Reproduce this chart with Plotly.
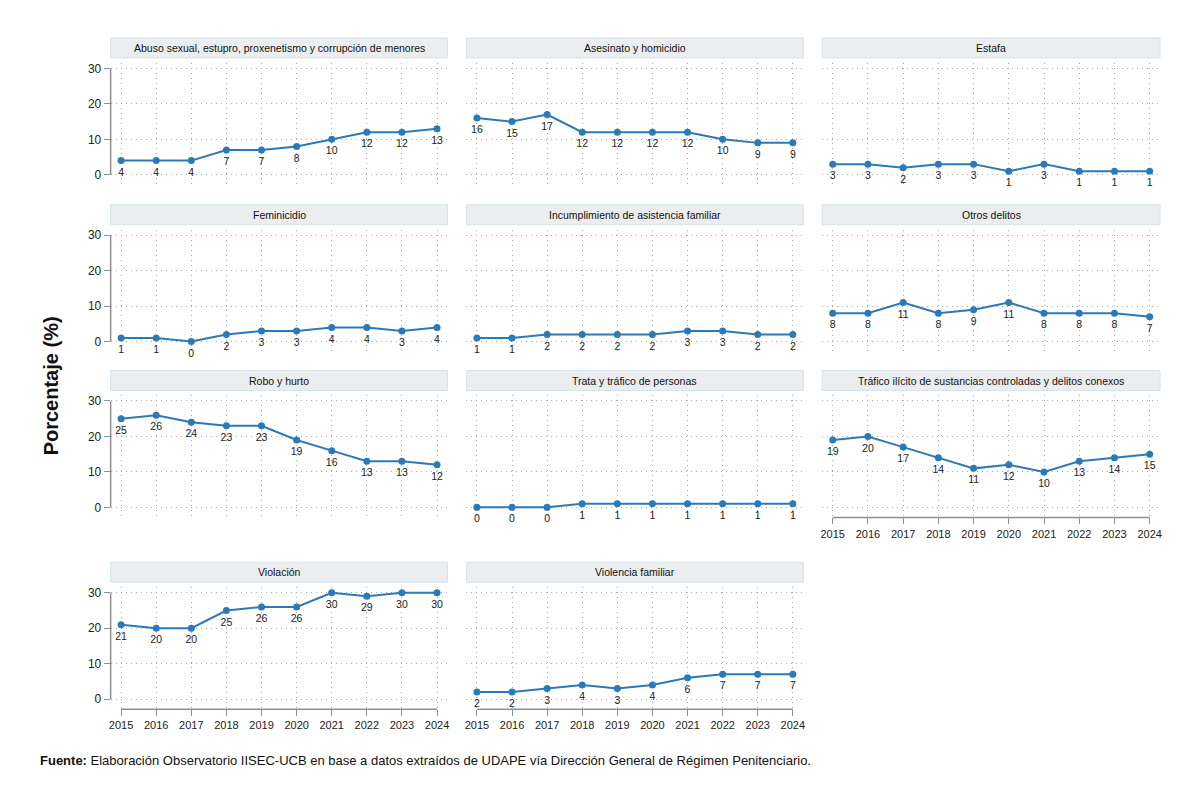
import plotly.graph_objects as go

years = [2015, 2016, 2017, 2018, 2019, 2020, 2021, 2022, 2023, 2024]

titles = [
    "Abuso sexual, estupro, proxenetismo y corrupción de menores",
    "Asesinato y homicidio",
    "Estafa",
    "Feminicidio",
    "Incumplimiento de asistencia familiar",
    "Otros delitos",
    "Robo y hurto",
    "Trata y tráfico de personas",
    "Tráfico ilícito de sustancias controladas y delitos conexos",
    "Violación",
    "Violencia familiar",
]

abuso = [4, 4, 4, 7, 7, 8, 10, 12, 12, 13]
asesinato = [16, 15, 17, 12, 12, 12, 12, 10, 9, 9]
estafa = [3, 3, 2, 3, 3, 1, 3, 1, 1, 1]
feminicidio = [1, 1, 0, 2, 3, 3, 4, 4, 3, 4]
incumplimiento = [1, 1, 2, 2, 2, 2, 3, 3, 2, 2]
otros = [8, 8, 11, 8, 9, 11, 8, 8, 8, 7]
robo = [25, 26, 24, 23, 23, 19, 16, 13, 13, 12]
trata = [0, 0, 0, 1, 1, 1, 1, 1, 1, 1]
trafico = [19, 20, 17, 14, 11, 12, 10, 13, 14, 15]
violacion = [21, 20, 20, 25, 26, 26, 30, 29, 30, 30]
violencia = [2, 2, 3, 4, 3, 4, 6, 7, 7, 7]

series = [abuso, asesinato, estafa, feminicidio, incumplimiento, otros,
          robo, trata, trafico, violacion, violencia]

y_ticks = [0, 10, 20, 30]

# ---- layout geometry (pixels) ----
W, H = 1200, 801
col_left = [109, 466, 823]
col_right = [447, 804, 1162]
row_y0 = [174, 341, 507, 699]
ppu = 3.55
ymin, ymax = -2.85, 31.6
pad_px = 10.5

FONT = "Liberation Sans, Arial, sans-serif"
LINE_COLOR = "#2a7ab9"
AXIS_COLOR = "#8f8f8f"
GRID_COLOR = "#a8a8a8"

fig = go.Figure()
layout = dict(
    width=W, height=H,
    margin=dict(l=0, r=0, t=0, b=0),
    paper_bgcolor="white", plot_bgcolor="white",
    showlegend=False,
    font=dict(family=FONT, size=11, color="#222"),
)
shapes = []
annotations = []

bottom_panels = {8, 9, 10}

for i, (title, vals) in enumerate(zip(titles, series)):
    r, c = divmod(i, 3)
    n = i + 1
    xa = "xaxis" if n == 1 else f"xaxis{n}"
    ya = "yaxis" if n == 1 else f"yaxis{n}"
    xr = "x" if n == 1 else f"x{n}"
    yr = "y" if n == 1 else f"y{n}"

    left, right = col_left[c], col_right[c]
    y0 = row_y0[r]
    top = y0 - ymax * ppu
    bot = y0 - ymin * ppu

    span_px = right - left - 2 * pad_px
    per_year = span_px / (years[-1] - years[0])
    xpad = pad_px / per_year

    show_x = i in bottom_panels
    show_y = c == 0

    layout[xa] = dict(
        domain=[left / W, right / W],
        range=[years[0] - xpad, years[-1] + xpad],
        anchor=yr,
        tickmode="array", tickvals=years, ticktext=[str(y) for y in years],
        showticklabels=show_x,
        ticks="outside" if show_x else "",
        ticklen=6, tickwidth=1.2, tickcolor=AXIS_COLOR,
        tickfont=dict(family=FONT, size=11, color="#222"),
        showgrid=True, gridcolor=GRID_COLOR, gridwidth=1, griddash="1px,4px",
        zeroline=False, showline=False, fixedrange=True,
    )
    layout[ya] = dict(
        domain=[1 - bot / H, 1 - top / H],
        range=[ymin, ymax],
        anchor=xr,
        tickmode="array", tickvals=y_ticks,
        showticklabels=show_y,
        ticks="outside" if show_y else "",
        ticklen=6, tickwidth=1.2, tickcolor=AXIS_COLOR,
        tickfont=dict(family=FONT, size=12, color="#222"),
        showgrid=True, gridcolor=GRID_COLOR, gridwidth=1, griddash="1px,4px",
        zeroline=False, showline=False, fixedrange=True,
    )

    # line + markers
    fig.add_trace(go.Scatter(
        x=years, y=vals, xaxis=xr, yaxis=yr,
        mode="lines+markers",
        line=dict(color=LINE_COLOR, width=2),
        marker=dict(color=LINE_COLOR, size=7),
        cliponaxis=False,
        hoverinfo="x+y",
    ))
    # value labels (invisible larger markers give the label offset)
    fig.add_trace(go.Scatter(
        x=years, y=vals, xaxis=xr, yaxis=yr,
        mode="markers+text",
        text=[str(v) for v in vals],
        textposition="bottom center",
        textfont=dict(family=FONT, size=10.5, color="#222"),
        marker=dict(color=LINE_COLOR, size=10, opacity=0),
        cliponaxis=False,
        hoverinfo="skip",
    ))

    # header strip
    h_top, h_bot = y0 - 137, y0 - 117
    shapes.append(dict(
        type="rect", xref="paper", yref="paper",
        x0=left / W, x1=right / W, y0=1 - h_bot / H, y1=1 - h_top / H,
        fillcolor="#ebedee", line=dict(color="#d5e3ec", width=1), layer="below",
    ))
    annotations.append(dict(
        text=title, xref="paper", yref="paper",
        x=(left + right) / 2 / W, y=1 - (h_top + h_bot) / 2 / H,
        xanchor="center", yanchor="middle", showarrow=False,
        font=dict(family=FONT, size=10.5, color="#111"),
    ))

    # axis lines (Stata-style: span the tick range only)
    if show_y:
        shapes.append(dict(
            type="line", xref=f"{xr} domain", yref=yr,
            x0=0, x1=0, y0=y_ticks[0], y1=y_ticks[-1],
            line=dict(color=AXIS_COLOR, width=1.5),
        ))
    if show_x:
        shapes.append(dict(
            type="line", xref=xr, yref=f"{yr} domain",
            x0=years[0], x1=years[-1], y0=0, y1=0,
            line=dict(color=AXIS_COLOR, width=1.5),
        ))

# y-axis title
annotations.append(dict(
    text="<b>Porcentaje (%)</b>", xref="paper", yref="paper",
    x=49 / W, y=1 - 385 / H, textangle=-90,
    xanchor="center", yanchor="middle", showarrow=False,
    font=dict(family=FONT, size=20, color="#111"),
))

# source note
annotations.append(dict(
    text="<b>Fuente:</b> Elaboración Observatorio IISEC-UCB en base a datos extraídos de UDAPE vía Dirección General de Régimen Penitenciario.",
    xref="paper", yref="paper",
    x=36 / W, y=1 - 760 / H,
    xanchor="left", yanchor="middle", showarrow=False,
    font=dict(family=FONT, size=13, color="#111"),
))

layout["shapes"] = shapes
layout["annotations"] = annotations
fig.update_layout(**layout)

fig.write_html("out.html")
